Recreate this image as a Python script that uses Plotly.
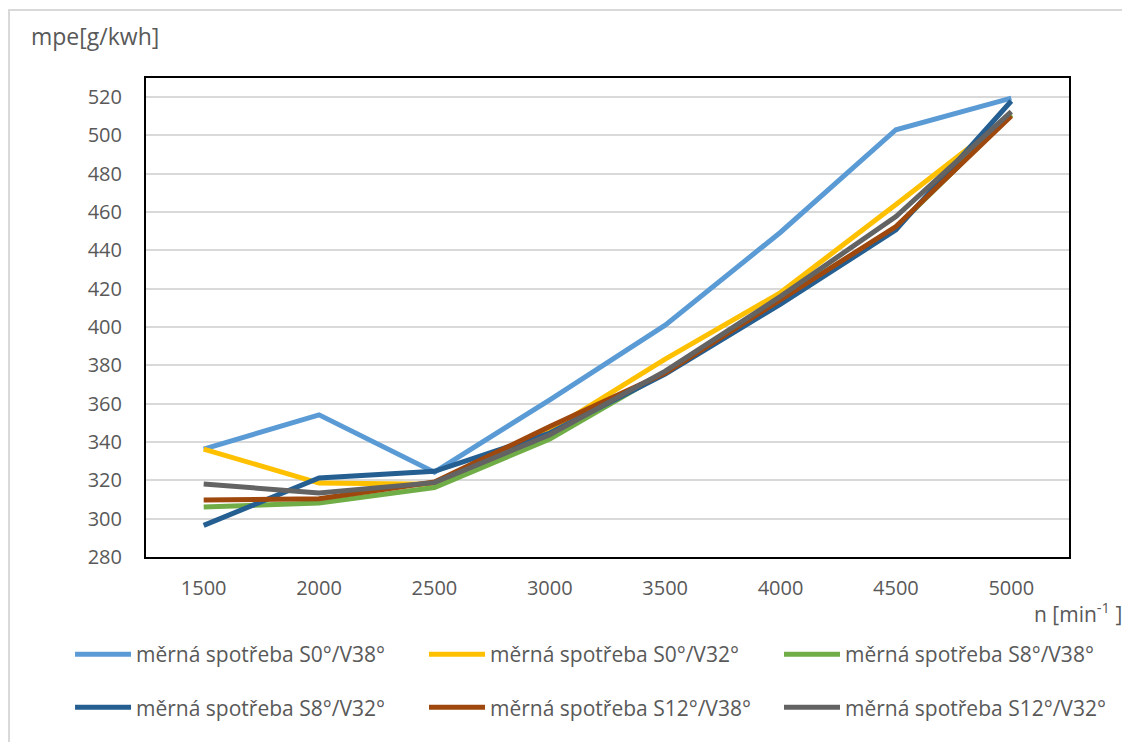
import plotly.graph_objects as go

rpm = ["1500", "2000", "2500", "3000", "3500", "4000", "4500", "5000"]
s0_v38 = [336.3, 354.2, 324.3, 362, 401, 449.5, 503, 519.5]
s0_v32 = [336.3, 318.6, 318, 346, 383.3, 418, 464, 510.7]
s8_v38 = [306.1, 308.2, 316.3, 341.6, 376.5, 414, 452, 511]
s8_v32 = [296.5, 321.2, 324.7, 344.7, 375.5, 412, 450.7, 518]
s12_v38 = [309.7, 310.4, 319.1, 348.1, 376, 414, 452.5, 510.2]
s12_v32 = [318.1, 313.4, 318.8, 343.8, 377, 416, 457.7, 512.5]

names = ["měrná spotřeba S0°/V38°", "měrná spotřeba S0°/V32°", "měrná spotřeba S8°/V38°",
         "měrná spotřeba S8°/V32°", "měrná spotřeba S12°/V38°", "měrná spotřeba S12°/V32°"]
series = [s0_v38, s0_v32, s8_v38, s8_v32, s12_v38, s12_v32]
colors = ["#5B9BD5", "#FFC000", "#70AD47", "#255E91", "#9E480E", "#636363"]

FONT = "Open Sans"
GREY = "#595959"

# one legend per entry: 3 columns x 2 rows (paper coordinates)
legend_ids = ["legend", "legend2", "legend3", "legend4", "legend5", "legend6"]
col_x = [-0.0823, 0.3012, 0.6858]
row_y = [-0.161, -0.2718]

fig = go.Figure()
for nm, vals, col, lg in zip(names, series, colors, legend_ids):
    fig.add_trace(go.Scatter(x=rpm, y=vals, name=nm, mode="lines",
                             line=dict(color=col, width=5), legend=lg))

legend_layout = {}
for i, lg in enumerate(legend_ids):
    legend_layout[lg] = dict(x=col_x[i % 3], y=row_y[i // 3],
                             orientation="h", xanchor="left", yanchor="top",
                             font=dict(family=FONT, size=21, color=GREY),
                             bgcolor="rgba(0,0,0,0)", itemwidth=56)

# page body has an 8px margin, so the figure is offset by 8px
fig.update_layout(
    width=1122, height=734,
    margin=dict(l=138, r=61, t=70, b=185, autoexpand=False),
    paper_bgcolor="white", plot_bgcolor="white",
    font=dict(family=FONT, color=GREY),
    showlegend=True,
    **legend_layout,
    xaxis=dict(type="category", range=[-0.5, 7.5], showgrid=False,
               showline=True, linecolor="black", linewidth=2, mirror=True,
               ticks="", ticklabelstandoff=12,
               tickfont=dict(family=FONT, size=20, color=GREY), zeroline=False),
    yaxis=dict(range=[280, 530], dtick=20, tick0=280, showgrid=True,
               gridcolor="#D9D9D9", gridwidth=1.5,
               showline=True, linecolor="black", linewidth=2, mirror=True,
               ticks="", ticklabelstandoff=18,
               tickfont=dict(family=FONT, size=20, color=GREY), zeroline=False),
    shapes=[dict(type="rect", xref="paper", yref="paper",
                 x0=-0.1484, y0=-0.6, x1=1.2, y1=1.142,
                 line=dict(color="#D9D9D9", width=2), fillcolor="rgba(0,0,0,0)",
                 layer="below")],
    annotations=[
        dict(text="mpe[g/kwh]", xref="paper", yref="paper", x=-0.1268, y=1.0876,
             xanchor="left", yanchor="middle", showarrow=False,
             font=dict(family=FONT, size=23, color=GREY)),
        dict(text="n [min<sup>-1</sup> ]", xref="paper", yref="paper", x=1.0596, y=-0.115,
             xanchor="right", yanchor="middle", showarrow=False,
             font=dict(family=FONT, size=21, color=GREY)),
    ],
)

fig.write_html("out.html")
